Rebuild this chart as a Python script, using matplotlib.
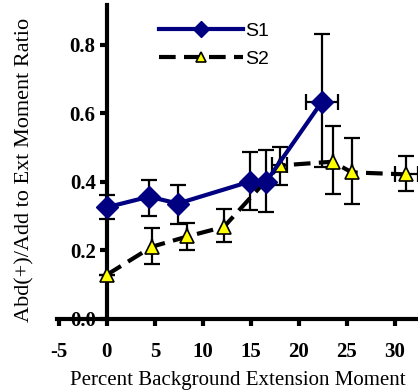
import matplotlib.pyplot as plt

plt.rcParams['font.family'] = 'Liberation Serif'
plt.rcParams['font.weight'] = 'bold'
plt.rcParams['axes.unicode_minus'] = False

# S1 series
s1_x = [0, 4.4, 7.4, 14.9, 16.6, 22.4]
s1_y = [0.325, 0.356, 0.336, 0.400, 0.400, 0.633]
s1_lo = [0.292, 0.300, 0.277, 0.318, 0.312, 0.444]
s1_hi = [0.362, 0.406, 0.390, 0.485, 0.493, 0.830]
s1_xerr = [0, 0, 0, 0, 0, 1.7]

# S2 series
s2_x = [0, 4.7, 8.4, 12.2, 18.0, 23.5, 25.5, 31.2]
s2_y = [0.128, 0.210, 0.240, 0.268, 0.447, 0.458, 0.427, 0.421]
s2_lo = [0.128, 0.160, 0.200, 0.225, 0.390, 0.363, 0.336, 0.374]
s2_hi = [0.128, 0.266, 0.280, 0.320, 0.502, 0.563, 0.527, 0.476]
s2_xerr = [0, 0, 0, 0, 0.8, 0, 0, 1.2]

xticks = [-5, 0, 5, 10, 15, 20, 25, 30]
yticks = [0.0, 0.2, 0.4, 0.6, 0.8]

fig = plt.figure(figsize=(4.18, 3.92), dpi=100)
ax = fig.add_axes([0.136, 0.187, 0.864, 0.800])

e1 = [[y - l for y, l in zip(s1_y, s1_lo)], [h - y for y, h in zip(s1_y, s1_hi)]]
e2 = [[y - l for y, l in zip(s2_y, s2_lo)], [h - y for y, h in zip(s2_y, s2_hi)]]

ax.errorbar(s2_x, s2_y, yerr=e2, xerr=s2_xerr, fmt='none', ecolor='black',
            elinewidth=1.6, capsize=5.5, capthick=1.6, zorder=2)
ax.errorbar(s1_x, s1_y, yerr=e1, xerr=s1_xerr, fmt='none', ecolor='black',
            elinewidth=1.6, capsize=5.5, capthick=1.6, zorder=2)
ax.plot(s2_x, s2_y, color='black', lw=3, dashes=(4, 2), marker='^',
        ms=10, mfc='#ffff00', mec='black', mew=1.2, label='S2', zorder=3)
ax.plot(s1_x, s1_y, color='#000080', lw=3, marker='D', ms=11,
        mfc='#000080', mec='#000080', label='S1', zorder=4)

ax.set_xlim(-5.2, 32.4)
ax.set_ylim(0, 0.915)
ax.set_xticks(xticks)
ax.set_xticklabels([str(t) for t in xticks])
ax.set_yticks(yticks)
ax.set_yticklabels(['%.1f' % t for t in yticks])
ax.spines['left'].set_position(('data', 0))
ax.spines['bottom'].set_position(('data', 0))
ax.spines['top'].set_visible(False)
ax.spines['right'].set_visible(False)
ax.spines['left'].set_linewidth(3)
ax.spines['bottom'].set_linewidth(3)
ax.tick_params(axis='both', direction='out', length=5, width=3,
               labelsize=15)
ax.tick_params(axis='x', pad=12)
ax.tick_params(axis='y', pad=3)

ax.set_xlabel('Percent Background Extension Moment', fontsize=15,
              fontweight='normal', labelpad=6)
fig.text(0.06, 0.566, 'Abd(+)/Add to Ext Moment Ratio', rotation=90,
         fontsize=16, fontweight='normal', ha='center', va='center')

h, l = ax.get_legend_handles_labels()
ax.legend(h[::-1], l[::-1], loc='upper left', bbox_to_anchor=(0.235, 1.0),
          frameon=False, handlelength=4.3, handletextpad=0.1, labelspacing=0.5,
          markerscale=0.7,
          prop={'family': 'Liberation Sans', 'size': 14, 'weight': 'normal'})

fig.savefig('out.png', dpi=100)
